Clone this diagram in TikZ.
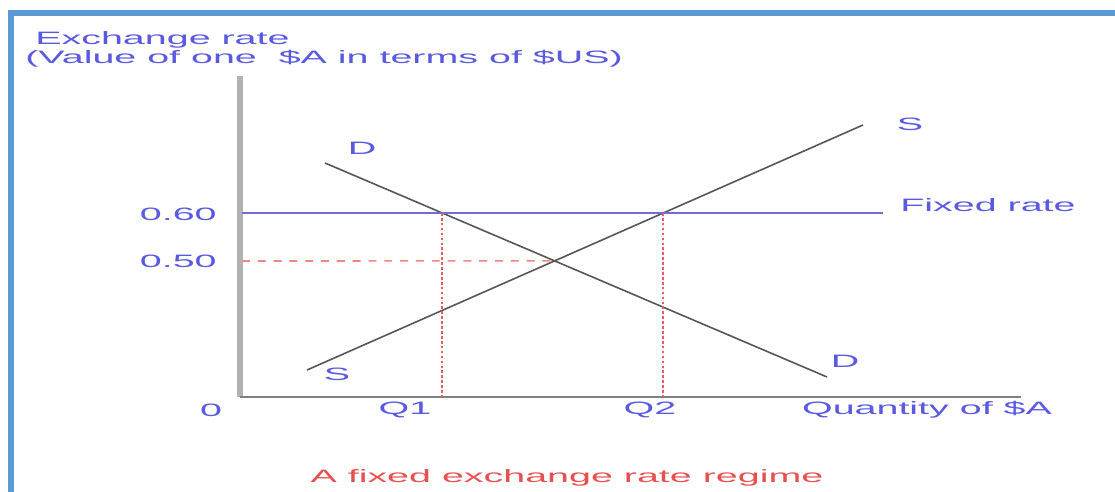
\documentclass[tikz,border=0pt]{standalone}
\usepackage{fontspec}
\setmainfont[FakeStretch=2.2]{Liberation Sans}
\usepackage{tikz}
\usetikzlibrary{calc}
\definecolor{frameblue}{HTML}{5B9BD5}
\definecolor{txtblue}{HTML}{5A5AE0}
\definecolor{fixblue}{HTML}{6E6ED6}
\definecolor{dotred}{HTML}{F05A5A}
\definecolor{capred}{HTML}{E85050}
\definecolor{curvegray}{HTML}{555555}
\newcommand{\lblfont}{\fontsize{10.2pt}{12pt}\selectfont}

\begin{document}
\begin{tikzpicture}[
    x=0.02cm, y=-0.02cm,
    lbl/.style={font=\lblfont, text=#1, inner sep=0pt},
    lbl/.default=txtblue,
    curve/.style={curvegray, line width=0.9pt},
    guide/.style={dotred, line width=1.2pt, dash pattern=on 1.5pt off 1.3pt},
]
    \fill[white] (0,0) rectangle (1115,492);
    \useasboundingbox (0,0) rectangle (1115,492);

    % Frame
    \draw[frameblue, line width=3.4pt] (11,492) -- (11,13) -- (1115,13);

    % Axes
    \coordinate (origin) at (240,397);
    \coordinate (ytop) at (240,76);
    \coordinate (xend) at (1021,397);
    \draw[gray!60, line width=3.6pt] (ytop) -- (origin);
    \draw[gray, line width=1.3pt] (origin) -- (xend);

    % Axis titles
    \node[lbl, anchor=base west] (ytitle) at (35,45) {Exchange rate};
    \node[lbl, anchor=base west] (yunit) at (25,64) {(Value of one~ \$A in terms of \$US)};
    \node[lbl] (xtitle) at (927,410) {Quantity of \$A};
    \node[lbl] (zero) at (211,410) {0};

    % Demand and supply
    \coordinate (d1) at (325,163);
    \coordinate (d2) at (827,377);
    \coordinate (s1) at (307,370);
    \coordinate (s2) at (863,125);
    \draw[curve] (d1) -- (d2);
    \draw[curve] (s1) -- (s2);
    \node[lbl] (dtop) at (362,148) {D};
    \node[lbl] (dbot) at (845,361) {D};
    \node[lbl] (stop) at (910,124) {S};
    \node[lbl] (sbot) at (337,374) {S};

    % Fixed rate
    \coordinate (fixl) at (242,213);
    \coordinate (fixr) at (883,213);
    \draw[fixblue, line width=0.8pt] (fixl) -- (fixr);
    \node[lbl, anchor=west] (fixed) at (900,205) {Fixed rate};
    \node[lbl, anchor=east] (r60) at (217,214) {0.60};
    \node[lbl, anchor=east] (r50) at (217,261) {0.50};

    % Equilibrium and quantities
    \coordinate (eq) at (intersection of d1--d2 and s1--s2);
    \coordinate (q1top) at (intersection of d1--d2 and fixl--fixr);
    \coordinate (q2top) at (intersection of s1--s2 and fixl--fixr);
    \draw[dotred!75, line width=0.9pt, dash pattern=on 4.5pt off 4.5pt] (r50.east -| origin) ++(2,0) -- (eq);
    \draw[guide] (q1top) -- (q1top |- origin);
    \draw[guide] (q2top) -- (q2top |- origin);
    \node[lbl] (q1) at (405,410) {Q1};
    \node[lbl] (q2) at (650,410) {Q2};

    % Caption
    \node[lbl=capred] (caption) at (567,478) {A fixed exchange rate regime};

\end{tikzpicture}
\end{document}
